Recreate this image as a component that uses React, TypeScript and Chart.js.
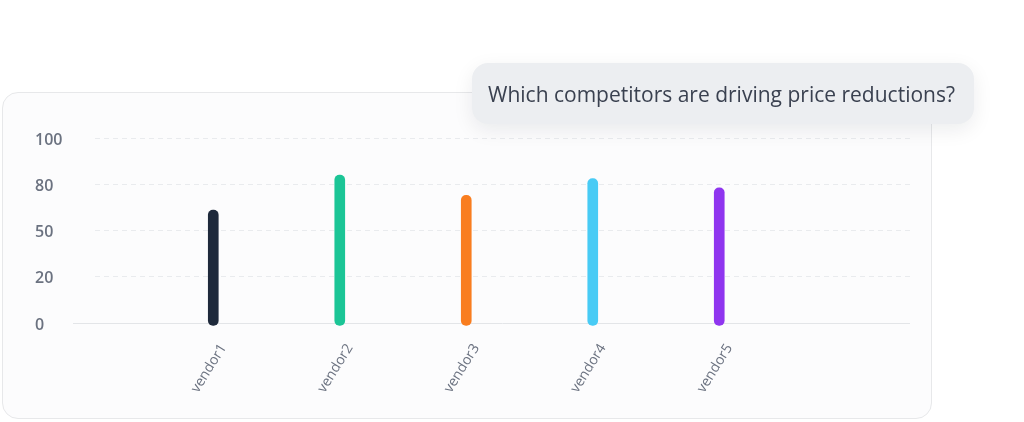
import { useEffect, useRef } from 'react'
import { Chart } from 'chart.js/auto'

const vendors = ['vendor1', 'vendor2', 'vendor3', 'vendor4', 'vendor5']
const scores = [61, 80, 69, 78, 73]
const barColors = ['#1e293b', '#1bc596', '#f97d1f', '#48cbf5', '#8f35ef']
const yTickValues = [0, 25, 50, 75, 100]
const yTickLabels = ['0', '20', '50', '80', '100']
const question = 'Which competitors are driving price reductions?'

function VendorChart() {
  const canvasRef = useRef<HTMLCanvasElement>(null)

  useEffect(() => {
    if (!canvasRef.current) return

    const chart = new Chart(canvasRef.current, {
      type: 'bar',
      data: {
        datasets: [
          {
            data: scores.map((v, i) => ({ x: i + 1, y: v })),
            backgroundColor: barColors,
            barThickness: 10,
            borderRadius: 5,
            borderSkipped: false,
            base: -1.3,
            clip: false,
          } as any,
        ],
      },
      options: {
        animation: false,
        responsive: false,
        layout: { padding: { left: 35, right: 114, top: 138, bottom: 29 } },
        plugins: { legend: { display: false }, tooltip: { enabled: false } },
        scales: {
          x: {
            type: 'linear',
            offset: false,
            min: 0.065,
            max: 6.508,
            afterBuildTicks: (scale: any) => {
              scale.ticks = vendors.map((_, i) => ({ value: i + 1 }))
            },
            afterFit: (scale: any) => {
              scale.height = 70
            },
            grid: { display: false, drawTicks: false },
            border: { display: false },
            ticks: {
              callback: (v: any) => vendors[Number(v) - 1] ?? '',
              minRotation: 58,
              maxRotation: 58,
              padding: 18,
              labelOffset: 10,
              color: '#6b7280',
              font: { family: 'Open Sans', size: 14 },
            },
          },
          y: {
            min: 0,
            max: 100,
            afterBuildTicks: (scale: any) => {
              scale.ticks = yTickValues.map((value) => ({ value }))
            },
            afterFit: (scale: any) => {
              scale.width = 60
            },
            grid: {
              color: (ctx: any) => (ctx.tick?.value === 0 ? '#e3e5e8' : '#e9ebee'),
              tickLength: 22,
              tickColor: (ctx: any) => (ctx.tick?.value === 0 ? '#e3e5e8' : 'rgba(0,0,0,0)'),
            },
            border: {
              display: false,
              dash: (ctx: any) => (ctx.tick?.value === 0 ? [] : [5, 4]),
            },
            ticks: {
              crossAlign: 'far',
              padding: 0,
              labelOffset: 2,
              color: '#6b7280',
              font: { family: 'Open Sans', size: 16, weight: 600 },
              callback: (_v: any, i: number) => yTickLabels[i],
            },
          },
        },
      } as any,
    })

    return () => chart.destroy()
  }, [])

  return (
    <canvas
      ref={canvasRef}
      width={1024}
      height={422}
      style={{ position: 'absolute', left: 0, top: 0, width: 1024, height: 422, zIndex: 1 }}
    />
  )
}

export default function App() {
  return (
    <div
      style={{
        position: 'absolute',
        left: 0,
        top: 0,
        width: 1024,
        height: 422,
        background: '#ffffff',
        overflow: 'hidden',
        fontFamily: '"Open Sans", sans-serif',
      }}
    >
      <div
        style={{
          position: 'absolute',
          left: 2,
          top: 92,
          width: 930,
          height: 327,
          boxSizing: 'border-box',
          border: '1px solid #e7e8ea',
          borderRadius: 16,
          background: '#fcfcfd',
        }}
      />
      <VendorChart />
      <div
        style={{
          position: 'absolute',
          left: 472,
          top: 63,
          width: 502,
          height: 61,
          boxSizing: 'border-box',
          paddingLeft: 16,
          display: 'flex',
          alignItems: 'center',
          background: '#eceef1',
          borderRadius: 16,
          boxShadow: '0 6px 20px rgba(15, 23, 42, 0.08)',
          color: '#3a4150',
          fontSize: 21,
          whiteSpace: 'nowrap',
          zIndex: 2,
        }}
      >
        {question}
      </div>
    </div>
  )
}
